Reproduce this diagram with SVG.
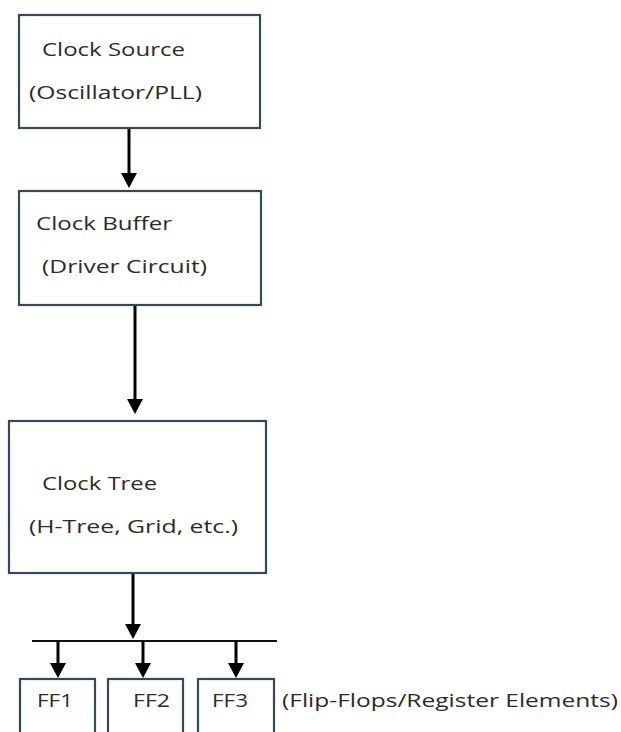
<svg xmlns="http://www.w3.org/2000/svg" width="621" height="732" viewBox="0 0 621 732">
<style>
.box{fill:#ffffff;stroke:#34495e;stroke-width:2.2}
.t{font-family:"Open Sans","Liberation Sans",sans-serif;font-size:19px;fill:#2b2b2b}
.c{stroke:#000;stroke-width:3;fill:none}
.bus{stroke:#111;stroke-width:1.8;fill:none}
</style>
<defs>
<marker id="ah" markerUnits="userSpaceOnUse" markerWidth="15" markerHeight="16" refX="0" refY="8" orient="auto" viewBox="0 0 15 16">
<path d="M0,0 L15,8 L0,16 Z" fill="#000"/>
</marker>
</defs>
<rect width="621" height="732" fill="#ffffff"/>
<g id="connectors">
<line class="c" x1="129" y1="129" x2="129" y2="173" marker-end="url(#ah)"/>
<line class="c" x1="135" y1="306" x2="135" y2="399" marker-end="url(#ah)"/>
<line class="c" x1="133" y1="574" x2="133" y2="624" marker-end="url(#ah)"/>
<line class="bus" x1="32" y1="641" x2="277" y2="641"/>
<line class="c" x1="58" y1="641" x2="58" y2="663" marker-end="url(#ah)"/>
<line class="c" x1="143" y1="641" x2="143" y2="663" marker-end="url(#ah)"/>
<line class="c" x1="236" y1="641" x2="236" y2="663" marker-end="url(#ah)"/>
</g>
<g id="clock-source">
<rect class="box" x="19" y="15" width="241" height="113"/>
<text class="t" x="42" y="56" textLength="143" lengthAdjust="spacingAndGlyphs">Clock Source</text>
<text class="t" x="29" y="99" textLength="173" lengthAdjust="spacingAndGlyphs">(Oscillator/PLL)</text>
</g>
<g id="clock-buffer">
<rect class="box" x="19" y="191" width="242" height="114"/>
<text class="t" x="36" y="230" textLength="136" lengthAdjust="spacingAndGlyphs">Clock Buffer</text>
<text class="t" x="42" y="273" textLength="165" lengthAdjust="spacingAndGlyphs">(Driver Circuit)</text>
</g>
<g id="clock-tree">
<rect class="box" x="9" y="421" width="257" height="152"/>
<text class="t" x="42" y="490" textLength="115" lengthAdjust="spacingAndGlyphs">Clock Tree</text>
<text class="t" x="29" y="533" textLength="209" lengthAdjust="spacingAndGlyphs">(H-Tree, Grid, etc.)</text>
</g>
<g id="ff1">
<rect class="box" x="20" y="679" width="75" height="60"/>
<text class="t" x="37" y="707" textLength="36" lengthAdjust="spacingAndGlyphs">FF1</text>
</g>
<g id="ff2">
<rect class="box" x="108" y="679" width="75" height="60"/>
<text class="t" x="133" y="707" textLength="37" lengthAdjust="spacingAndGlyphs">FF2</text>
</g>
<g id="ff3">
<rect class="box" x="198" y="679" width="76" height="60"/>
<text class="t" x="212" y="707" textLength="36" lengthAdjust="spacingAndGlyphs">FF3</text>
</g>
<text class="t" x="282" y="707" textLength="336" lengthAdjust="spacingAndGlyphs">(Flip-Flops/Register Elements)</text>
</svg>
